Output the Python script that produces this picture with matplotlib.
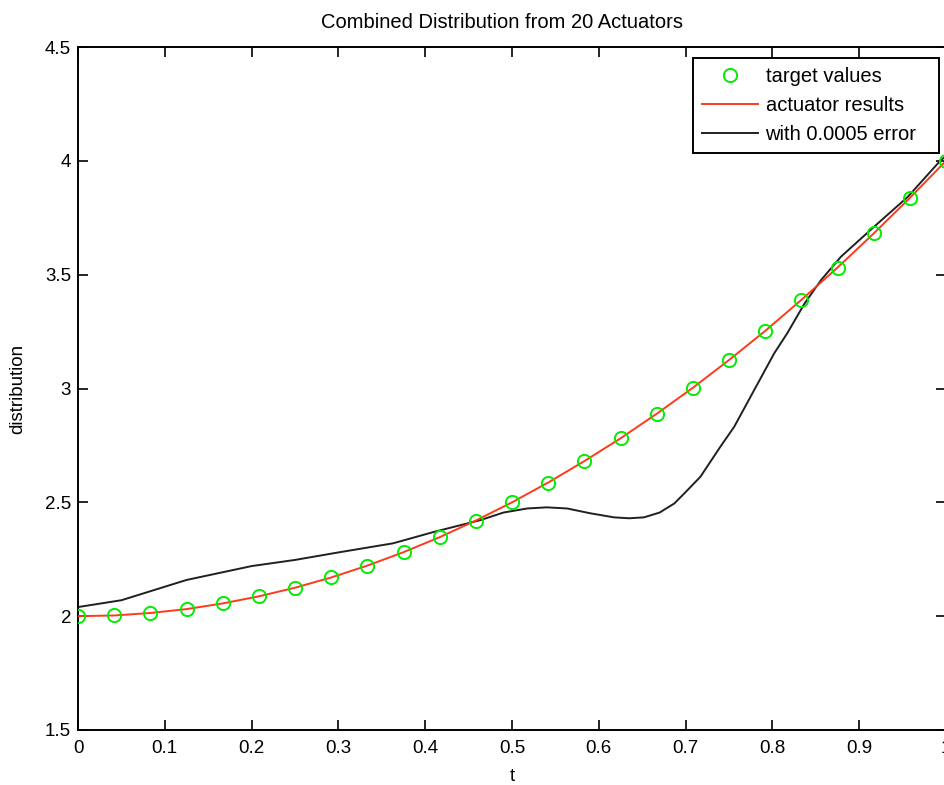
import matplotlib
matplotlib.use("Agg")
import matplotlib.pyplot as plt
from matplotlib import font_manager

# --- data -------------------------------------------------------------
t_target = [0.0, 0.0417, 0.0833, 0.125, 0.1667, 0.2083, 0.25, 0.2917, 0.3333,
            0.375, 0.4167, 0.4583, 0.5, 0.5417, 0.5833, 0.625, 0.6667, 0.7083,
            0.75, 0.7917, 0.8333, 0.875, 0.9167, 0.9583, 1.0]
target_values = [2.0, 2.003, 2.014, 2.031, 2.056, 2.087, 2.125, 2.170, 2.222,
                 2.281, 2.347, 2.420, 2.5, 2.587, 2.681, 2.781, 2.889, 3.003,
                 3.125, 3.253, 3.389, 3.531, 3.681, 3.837, 4.0]
actuator_results = [2.0, 2.003, 2.014, 2.031, 2.056, 2.087, 2.125, 2.170, 2.222,
                    2.281, 2.347, 2.420, 2.5, 2.587, 2.681, 2.781, 2.889, 3.003,
                    3.125, 3.253, 3.389, 3.531, 3.681, 3.837, 4.0]

t_error = [0.0, 0.05, 0.125, 0.2, 0.25, 0.3, 0.363, 0.41, 0.4637, 0.49,
           0.5175, 0.54, 0.5636, 0.59, 0.6175, 0.635, 0.652, 0.67, 0.687,
           0.70, 0.717, 0.740, 0.756, 0.779, 0.802, 0.817, 0.837, 0.856,
           0.879, 0.917, 0.956, 0.994, 1.0]
with_error = [2.04, 2.07, 2.159, 2.22, 2.247, 2.28, 2.32, 2.37, 2.422, 2.455,
              2.473, 2.478, 2.473, 2.452, 2.434, 2.430, 2.434, 2.455, 2.495,
              2.545, 2.612, 2.744, 2.832, 2.993, 3.154, 3.242, 3.373, 3.476,
              3.579, 3.71, 3.842, 4.003, 4.02]

x_ticks = [0, 0.1, 0.2, 0.3, 0.4, 0.5, 0.6, 0.7, 0.8, 0.9, 1]
x_tick_labels = ["0", "0.1", "0.2", "0.3", "0.4", "0.5", "0.6", "0.7", "0.8", "0.9", "1"]
y_ticks = [1.5, 2, 2.5, 3, 3.5, 4, 4.5]
y_tick_labels = ["1.5", "2", "2.5", "3", "3.5", "4", "4.5"]

# --- fonts ------------------------------------------------------------
names = {f.name for f in font_manager.fontManager.ttflist}
family = "Liberation Sans Narrow" if "Liberation Sans Narrow" in names else "Liberation Sans"
plt.rcParams["font.family"] = [family, "DejaVu Sans"]

W, H = 944, 785
fig = plt.figure(figsize=(W / 100, H / 100), dpi=100)
fig.patch.set_facecolor("white")

# axes: left spine at x=78 px, bottom at y=730 px, top at y=47 px
left, right_px, top_px, bottom_px = 78, 946, 47, 730
ax = fig.add_axes([left / W, (H - bottom_px) / H,
                   (right_px - left) / W, (bottom_px - top_px) / H])

ax.plot(t_target, target_values, linestyle="none", marker="o",
        markersize=9.5, markerfacecolor="none", markeredgecolor="#00ee00",
        markeredgewidth=1.4, label="target values", zorder=4)
ax.plot(t_target, actuator_results, color="#ff3a1a", linewidth=1.4,
        label="actuator results", zorder=3)
ax.plot(t_error, with_error, color="#202020", linewidth=1.4,
        label="with 0.0005 error", zorder=2)

ax.set_xlim(0, 1)
ax.set_ylim(1.5, 4.5)
ax.set_xticks(x_ticks)
ax.set_xticklabels(x_tick_labels)
ax.set_yticks(y_ticks)
ax.set_yticklabels(y_tick_labels)

fs = 13.5
fs_big = 14.5
ax.tick_params(direction="in", length=7, width=1.2, top=True, right=True,
               labelsize=fs, colors="black")
ax.tick_params(axis="x", pad=7)
ax.tick_params(axis="y", pad=5)
for sp in ax.spines.values():
    sp.set_linewidth(1.4)
    sp.set_color("black")

ax.set_xlabel("t", fontsize=fs, labelpad=8)
ax.set_ylabel("distribution", fontsize=fs, labelpad=13)
fig.text(502 / W, 1 - 22 / H, "Combined Distribution from 20 Actuators",
         ha="center", va="center", fontsize=fs_big)

# legend box spans x 693..939 px, top at y=58 px
leg = ax.legend(loc="upper left",
                bbox_to_anchor=(693 / W, 1 - 152 / H, 246 / W, 94 / H),
                bbox_transform=fig.transFigure, mode="expand",
                fontsize=fs_big, frameon=True, fancybox=False,
                edgecolor="black", framealpha=1, borderpad=0.45,
                labelspacing=0.5, handlelength=2.8, handletextpad=0.35,
                borderaxespad=0)
leg.get_frame().set_linewidth(1.4)

fig.savefig("out.png", dpi=100, facecolor="white")
